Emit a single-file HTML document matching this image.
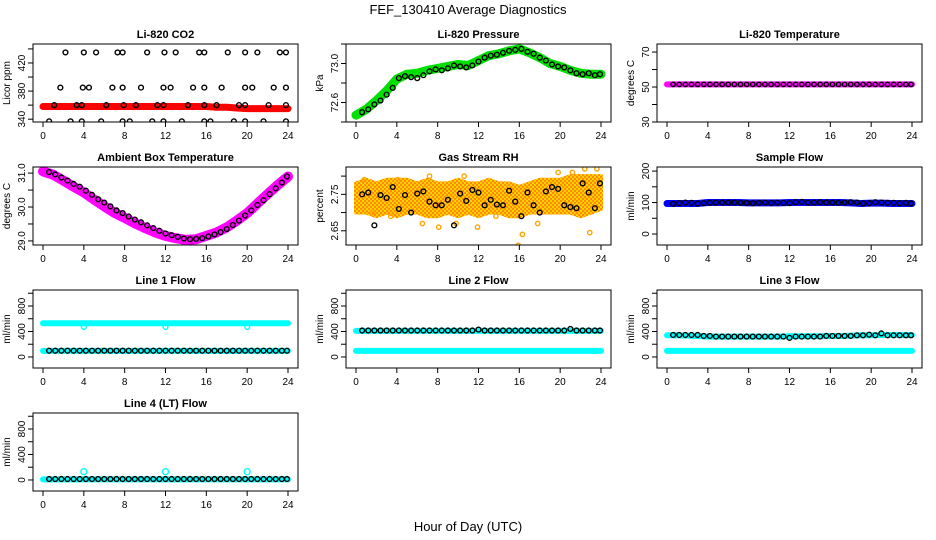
<!DOCTYPE html>
<html><head><meta charset="utf-8"><style>
body{margin:0;background:#fff}
svg{display:block;font-family:"Liberation Sans",Arial,sans-serif}
</style></head><body>
<svg id="chart" width="936" height="540" viewBox="0 0 936 540">
<defs>
<pattern id="rhpat" width="4" height="4" patternUnits="userSpaceOnUse">
<rect width="4" height="4" fill="#ffd000"/>
<rect width="2" height="2" fill="#ff8c00"/>
<rect x="2" y="2" width="2" height="2" fill="#ff8c00"/>
</pattern>
</defs>
<rect width="936" height="540" fill="#fff"/>
<text x="468" y="14" font-size="13" text-anchor="middle">FEF_130410  Average Diagnostics</text>
<text x="468" y="531" font-size="13" text-anchor="middle">Hour of Day (UTC)</text>
</svg>
<script>
const hours = [0,1,2,3,4,5,6,7,8,9,10,11,12,13,14,15,16,17,18,19,20,21,22,23,24];
const blackHours = [0.6,1.2,1.8,2.4,3.0,3.6,4.2,4.8,5.4,6.0,6.6,7.2,7.8,8.4,9.0,9.6,10.2,10.8,11.4,12.0,12.6,13.2,13.8,14.4,15.0,15.6,16.2,16.8,17.4,18.0,18.6,19.2,19.8,20.4,21.0,21.6,22.2,22.8,23.4,23.9];

const co2Band = [358,358,358,358,358,358,358,358,358,358,358,358,358,358,358,358,358,357,357,356,355,355,355,355,355];
const co2Hours = [2.2,4,5.2,7.3,7.8,10.2,11.9,13,15.3,15.8,18.1,19.8,21,23.2,23.8,
 1.7,3.9,4.5,6.8,7.8,9.6,11.8,12.5,14.7,15.8,17.5,19.8,20.5,22.6,23.8,
 1.1,3.3,3.8,6.2,7.9,9.1,11.2,11.8,14.2,15.8,17,19.2,19.8,22.1,23.8,
 0.6,2.7,3.8,5.7,7.8,8.5,10.7,11.8,13.6,15.8,16.4,18.7,19.8,21.6,23.8];
const co2Vals = [435,435,435,435,435,435,435,435,435,435,435,435,435,435,435,
 385,385,385,385,385,385,385,385,385,385,385,385,385,385,385,
 360,360,360,360,360,360,360,360,360,360,360,360,360,360,360,
 337,337,337,337,337,337,337,337,337,337,337,337,337,337,337];

const pressBand = [72.47,72.53,72.62,72.72,72.84,72.89,72.9,72.93,72.95,72.97,72.99,72.98,73.03,73.08,73.1,73.13,73.15,73.11,73.06,73.0,72.97,72.93,72.9,72.89,72.89];
const pressBlack = [72.5,72.53,72.58,72.62,72.68,72.75,72.85,72.87,72.86,72.85,72.88,72.92,72.94,72.93,72.95,72.98,72.97,72.96,72.98,73.02,73.06,73.08,73.09,73.11,73.13,73.14,73.15,73.12,73.1,73.06,73.03,72.99,72.97,72.96,72.93,72.9,72.89,72.9,72.88,72.89];

const tempBand = [51.5,51.5,51.5,51.5,51.5,51.5,51.5,51.5,51.5,51.5,51.5,51.5,51.5,51.5,51.5,51.5,51.5,51.5,51.5,51.5,51.5,51.5,51.5,51.5,51.5];
const tempBlack = [51.5,51.5,51.5,51.5,51.5,51.5,51.5,51.5,51.5,51.5,51.5,51.5,51.5,51.5,51.5,51.5,51.5,51.5,51.5,51.5,51.5,51.5,51.5,51.5,51.5,51.5,51.5,51.5,51.5,51.5,51.5,51.5,51.5,51.5,51.5,51.5,51.5,51.5,51.5,51.5];

const ambBand = [31.05,30.95,30.78,30.6,30.43,30.22,30.02,29.83,29.68,29.52,29.38,29.25,29.15,29.08,29.03,29.05,29.15,29.25,29.4,29.6,29.82,30.1,30.38,30.65,30.9];
const ambBlack = [31.03,30.96,30.87,30.78,30.68,30.6,30.48,30.36,30.23,30.13,30.02,29.9,29.82,29.72,29.63,29.55,29.46,29.38,29.3,29.22,29.17,29.12,29.07,29.05,29.06,29.08,29.13,29.19,29.26,29.35,29.47,29.6,29.75,29.9,30.06,30.2,30.38,30.55,30.72,30.9];

const rhLow = [2.70,2.70,2.69,2.70,2.69,2.70,2.70,2.69,2.69,2.70,2.69,2.70,2.69,2.70,2.70,2.69,2.69,2.70,2.70,2.70,2.70,2.70,2.69,2.70,2.71];
const rhHigh = [2.78,2.79,2.78,2.79,2.79,2.79,2.78,2.79,2.78,2.78,2.79,2.78,2.78,2.79,2.78,2.78,2.77,2.78,2.79,2.79,2.79,2.80,2.80,2.80,2.80];
const rhOutHours = [0.8,1.6,3.4,4.1,6.5,7.2,8.1,9.8,10.6,11.9,13.7,15.9,16.3,17.8,19.8,21.2,22.4,22.9,23.6];
const rhOutVals = [2.79,2.70,2.69,2.79,2.67,2.80,2.66,2.67,2.80,2.66,2.69,2.61,2.64,2.67,2.81,2.81,2.82,2.645,2.82];
const rhBlack = [2.75,2.755,2.665,2.748,2.74,2.77,2.71,2.748,2.70,2.752,2.758,2.73,2.72,2.72,2.735,2.665,2.752,2.732,2.762,2.755,2.72,2.735,2.722,2.72,2.76,2.73,2.69,2.755,2.72,2.70,2.758,2.77,2.765,2.72,2.715,2.712,2.78,2.755,2.712,2.78];

const sampleBand = [97,97,97,97,100,100,100,100,99,99,99,99,100,100,100,100,100,100,99,97,98,98,97,97,97];
const sampleBlack = [96,98,100,99,97,98,99,100,100,100,100,99,99,98,99,100,99,100,99,98,101,102,100,100,101,100,100,99,100,101,100,97,98,101,100,99,99,98,99,97];

const l1CyanHigh = [530,530,530,530,530,530,530,530,530,530,530,530,530,530,530,530,530,530,530,530,530,530,530,530,530];
const l1CyanLow = [95,95,95,95,95,95,95,95,95,95,95,95,95,95,95,95,95,95,95,95,95,95,95,95,95];
const l1Black = [98,98,98,98,98,98,98,98,98,98,98,98,98,98,98,98,98,98,98,98,98,98,98,98,98,98,98,98,98,98,98,98,98,98,98,98,98,98,98,98];

const l2CyanHigh = [410,410,410,410,410,410,410,410,410,410,410,410,410,410,410,410,410,410,410,410,410,410,410,410,410];
const l2CyanLow = [95,95,95,95,95,95,95,95,95,95,95,95,95,95,95,95,95,95,95,95,95,95,95,95,95];
const l2Black = [415,415,415,415,415,415,415,415,415,415,415,415,415,415,415,415,415,415,415,430,415,415,415,415,415,415,415,415,415,415,415,415,415,415,440,415,415,415,415,415];

const l3CyanHigh = [340,340,335,330,320,320,320,320,320,320,320,320,325,325,325,325,330,330,335,340,340,345,345,345,345];
const l3CyanLow = [95,95,95,95,95,95,95,95,95,95,95,95,95,95,95,95,95,95,95,95,95,95,95,95,95];
const l3Black = [345,345,345,345,345,330,330,320,320,320,320,320,320,320,320,320,320,320,320,300,320,320,320,320,320,330,330,330,330,330,340,340,350,340,370,340,340,340,340,340];

const l4Cyan = [10,10,10,10,10,10,10,10,10,10,10,10,10,10,10,10,10,10,10,10,10,10,10,10,10];
const l4SpikeHours = [4,12,20];
const l4SpikeVals = [130,130,130];
const l4Black = [15,15,15,15,15,15,15,15,15,15,15,15,15,15,15,15,15,15,15,15,15,15,15,15,15,15,15,15,15,15,15,15,15,15,15,15,15,15,15,15];

const xTicks = [0,4,8,12,16,20,24];
const colX = [33,346,657];
const rowY = [44,167,290,413];
const BW = 265, BH = 78;
const NS = 'http://www.w3.org/2000/svg';
const svg = document.getElementById('chart');

function el(tag, attrs, parent){
  const e = document.createElementNS(NS, tag);
  for (const k in attrs) e.setAttribute(k, attrs[k]);
  (parent||svg).appendChild(e);
  return e;
}

function panel(cfg){
  const x0 = colX[cfg.col], y0 = rowY[cfg.row];
  const g = el('g', {});
  
  
  const X = h => x0 + 10 + h / 24 * 245;
  const Y = v => y0 + (cfg.ymax - v) / (cfg.ymax - cfg.ymin) * BH;
  const t = el('text', {x: x0 + BW/2, y: y0 - 6, 'font-size': 11, 'font-weight': 'bold', 'text-anchor': 'middle'}, g);
  t.textContent = cfg.title;
  
  
  const yt = el('text', {x: 0, y: 0, 'font-size': 10, 'text-anchor': 'middle', transform: 'translate(' + (x0 - 23) + ',' + (y0 + BH/2) + ') rotate(-90)'}, g);
  yt.textContent = cfg.ylabel;
  
  
  xTicks.forEach(h => {
    el('line', {x1: X(h), x2: X(h), y1: y0 + BH, y2: y0 + BH + 5, stroke: '#000'}, g);
    const lt = el('text', {x: X(h), y: y0 + BH + 17, 'font-size': 10, 'text-anchor': 'middle'}, g);
    lt.textContent = h;
    
    
  });
  cfg.yticks.forEach((v, i) => {
    el('line', {x1: x0 - 5, x2: x0, y1: Y(v), y2: Y(v), stroke: '#000'}, g);
    if (cfg.ylabels[i] !== '') {
      const lt = el('text', {x: 0, y: 0, 'font-size': 10, 'text-anchor': 'middle', transform: 'translate(' + (x0 - 8) + ',' + Y(v) + ') rotate(-90)'}, g);
      lt.textContent = cfg.ylabels[i];
      
      
    }
  });
  const clipId = 'clip-' + cfg.id;
  const cp = el('clipPath', {id: clipId}, g);
  el('rect', {x: x0, y: y0, width: BW, height: BH}, cp);
  const dg = el('g', {'clip-path': 'url(#' + clipId + ')'}, g);
  cfg.draw(dg, X, Y);
  const box = el('rect', {x: x0, y: y0, width: BW, height: BH, fill: 'none', stroke: '#000'}, g);
  
  
}

function band(g, X, Y, xs, vals, color, w, name){
  const p = el('polyline', {points: xs.map((h, i) => X(h) + ',' + Y(vals[i])).join(' '), fill: 'none', stroke: color, 'stroke-width': w, 'stroke-linejoin': 'round', 'stroke-linecap': 'round'}, g);
  
  
}
function pts(g, X, Y, xs, vals, color, name, r, fill){
  xs.forEach((h, i) => {
    const c = el('circle', {cx: X(h), cy: Y(vals[i]), r: r || 2.4, fill: fill || 'none', stroke: color, 'stroke-width': 1.4}, g);
    
    
  });
}
function area(g, X, Y, xs, lo, hi, color, name){
  const top = xs.map((h, i) => X(h) + ',' + Y(hi[i]));
  const bot = xs.map((h, i) => X(h) + ',' + Y(lo[i])).reverse();
  const p = el('polygon', {points: top.concat(bot).join(' '), fill: color, stroke: color, 'stroke-width': 4, 'stroke-linejoin': 'round'}, g);
  
  
}

const flowTicks = [0,200,400,600,800,1000];
const flowLabels = ['0','','400','','800',''];

panel({id: 'co2', col: 0, row: 0, title: 'Li-820 CO2', ylabel: 'Licor ppm', ymin: 336, ymax: 447, yticks: [340,360,380,400,420,440], ylabels: ['340','','380','','420',''],
  draw: (g, X, Y) => { band(g, X, Y, hours, co2Band, '#ff0000', 7, 'co2-band'); pts(g, X, Y, co2Hours, co2Vals, '#000', 'co2-point'); }});
panel({id: 'pressure', col: 1, row: 0, title: 'Li-820 Pressure', ylabel: 'kPa', ymin: 72.4, ymax: 73.2, yticks: [72.4,72.6,72.8,73.0,73.2], ylabels: ['','72.6','','73.0',''],
  draw: (g, X, Y) => { band(g, X, Y, hours, pressBand, '#00e000', 9, 'pressure-band'); pts(g, X, Y, blackHours, pressBlack, '#000', 'pressure-point'); }});
panel({id: 'li820-temp', col: 2, row: 0, title: 'Li-820 Temperature', ylabel: 'degrees C', ymin: 30, ymax: 74.6, yticks: [30,40,50,60,70], ylabels: ['30','','50','','70'],
  draw: (g, X, Y) => { band(g, X, Y, hours, tempBand, '#ff00ff', 6, 'li820-temp-band'); pts(g, X, Y, blackHours, tempBlack, '#000', 'li820-temp-point', 2.2); }});
panel({id: 'ambient', col: 0, row: 1, title: 'Ambient Box Temperature', ylabel: 'degrees C', ymin: 28.88, ymax: 31.18, yticks: [29.0,29.5,30.0,30.5,31.0], ylabels: ['29.0','','30.0','','31.0'],
  draw: (g, X, Y) => { band(g, X, Y, hours, ambBand, '#ff00ff', 10, 'ambient-band'); pts(g, X, Y, blackHours, ambBlack, '#000', 'ambient-point'); }});
panel({id: 'rh', col: 1, row: 1, title: 'Gas Stream RH', ylabel: 'percent', ymin: 2.611, ymax: 2.825, yticks: [2.65,2.70,2.75,2.80], ylabels: ['2.65','','2.75',''],
  draw: (g, X, Y) => { area(g, X, Y, hours, rhLow, rhHigh, 'url(#rhpat)', 'rh-band'); pts(g, X, Y, rhOutHours, rhOutVals, '#ffa500', 'rh-outlier', 2.2); pts(g, X, Y, blackHours, rhBlack, '#000', 'rh-point'); }});
panel({id: 'sample-flow', col: 2, row: 1, title: 'Sample Flow', ylabel: 'ml/min', ymin: -35, ymax: 213, yticks: [0,50,100,150,200], ylabels: ['0','','100','','200'],
  draw: (g, X, Y) => { band(g, X, Y, hours, sampleBand, '#0000ff', 7, 'sample-flow-band'); pts(g, X, Y, blackHours, sampleBlack, '#000', 'sample-flow-point'); }});
panel({id: 'line1', col: 0, row: 2, title: 'Line 1 Flow', ylabel: 'ml/min', ymin: -173, ymax: 1051, yticks: flowTicks, ylabels: flowLabels,
  draw: (g, X, Y) => { band(g, X, Y, hours, l1CyanHigh, '#00ffff', 6, 'line1-cyan-high'); band(g, X, Y, hours, l1CyanLow, '#00ffff', 6, 'line1-cyan-low'); pts(g, X, Y, [4,12,20], [470,470,470], '#00ffff', 'line1-cyan-dip'); pts(g, X, Y, blackHours, l1Black, '#000', 'line1-point'); }});
panel({id: 'line2', col: 1, row: 2, title: 'Line 2 Flow', ylabel: 'ml/min', ymin: -173, ymax: 1051, yticks: flowTicks, ylabels: flowLabels,
  draw: (g, X, Y) => { band(g, X, Y, hours, l2CyanHigh, '#00ffff', 6, 'line2-cyan-high'); band(g, X, Y, hours, l2CyanLow, '#00ffff', 6, 'line2-cyan-low'); pts(g, X, Y, blackHours, l2Black, '#000', 'line2-point'); }});
panel({id: 'line3', col: 2, row: 2, title: 'Line 3 Flow', ylabel: 'ml/min', ymin: -173, ymax: 1051, yticks: flowTicks, ylabels: flowLabels,
  draw: (g, X, Y) => { band(g, X, Y, hours, l3CyanHigh, '#00ffff', 6, 'line3-cyan-high'); band(g, X, Y, hours, l3CyanLow, '#00ffff', 6, 'line3-cyan-low'); pts(g, X, Y, blackHours, l3Black, '#000', 'line3-point'); }});
panel({id: 'line4', col: 0, row: 3, title: 'Line 4 (LT) Flow', ylabel: 'ml/min', ymin: -173, ymax: 1051, yticks: flowTicks, ylabels: flowLabels,
  draw: (g, X, Y) => { band(g, X, Y, hours, l4Cyan, '#00ffff', 6, 'line4-cyan'); pts(g, X, Y, l4SpikeHours, l4SpikeVals, '#00ffff', 'line4-cyan-spike', 3); pts(g, X, Y, blackHours, l4Black, '#000', 'line4-point'); }});
</script>
</body></html>
